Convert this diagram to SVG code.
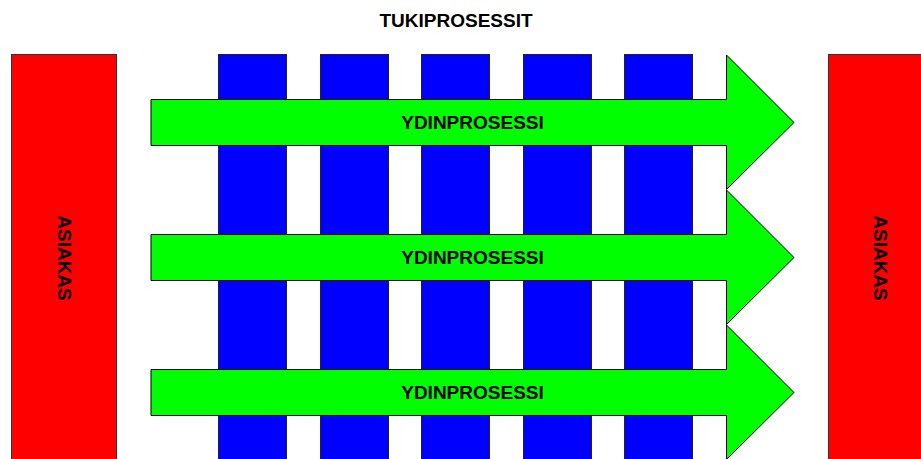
<svg xmlns="http://www.w3.org/2000/svg" width="921" height="459" viewBox="0 0 921 459">
<style>
.red{fill:#ff0000;stroke:#333;stroke-width:1}
.blue{fill:#0000ff;stroke:#222;stroke-width:1}
.arrow{fill:#00ff00;stroke:#000;stroke-width:1}
text{font-family:"Liberation Sans",Arial,sans-serif;font-weight:bold;fill:#000}
.lbl{font-size:19px;text-anchor:middle;dominant-baseline:central}
</style>
<rect width="921" height="459" fill="#fff"/>
<text id="title" x="456" y="20" class="lbl" style="font-size:19px">TUKIPROSESSIT</text>
<g id="asiakas-left">
<rect class="red" x="11.5" y="54.5" width="105" height="420"/>
<text class="lbl" transform="translate(64,258) rotate(90)">ASIAKAS</text>
</g>
<g id="asiakas-right">
<rect class="red" x="828.5" y="54.5" width="110" height="420"/>
<text class="lbl" transform="translate(880,258) rotate(90)">ASIAKAS</text>
</g>
<g id="tuki">
<rect class="blue" x="218.5" y="54.5" width="68" height="420"/>
<rect class="blue" x="320.5" y="54.5" width="68" height="420"/>
<rect class="blue" x="421.5" y="54.5" width="68" height="420"/>
<rect class="blue" x="523.5" y="54.5" width="68" height="420"/>
<rect class="blue" x="624.5" y="54.5" width="68" height="420"/>
</g>
<g id="ydin1">
<polygon class="arrow" points="151,99.5 726.5,99.5 726.5,55 794,122.5 726.5,189.5 726.5,145.5 151,145.5"/>
<text class="lbl" x="472.5" y="122.5">YDINPROSESSI</text>
</g>
<g id="ydin2">
<polygon class="arrow" points="151,234.5 726.5,234.5 726.5,190 794,257.5 726.5,324.5 726.5,280.5 151,280.5"/>
<text class="lbl" x="472.5" y="257.5">YDINPROSESSI</text>
</g>
<g id="ydin3">
<polygon class="arrow" points="151,369.5 726.5,369.5 726.5,325 794,392.5 726.5,459.5 726.5,415.5 151,415.5"/>
<text class="lbl" x="472.5" y="392.5">YDINPROSESSI</text>
</g>
</svg>
